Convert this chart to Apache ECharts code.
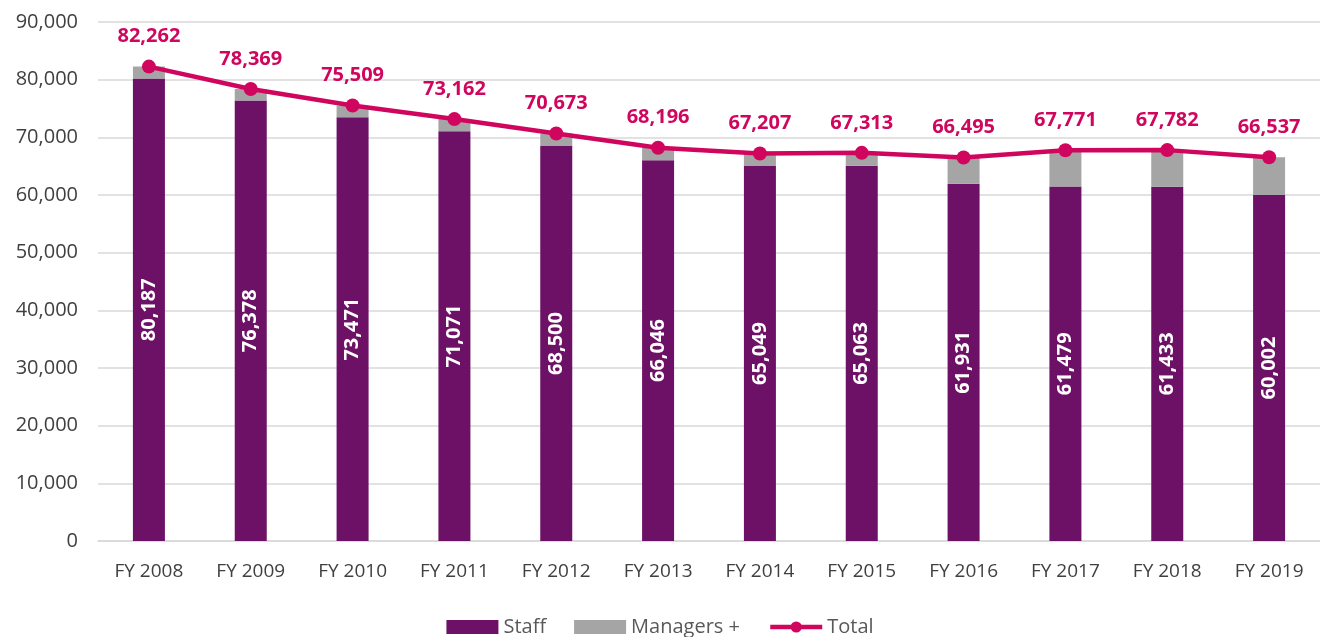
<!DOCTYPE html>
<html>
<head>
<meta charset="utf-8">
<script src="https://cdn.jsdelivr.net/npm/echarts@6/dist/echarts.min.js"></script>
<style>
  html, body { margin: 0; padding: 0; background: #fff; }
  #chart { width: 1320px; height: 637px; }
</style>
</head>
<body>
<div id="chart"></div>
<script>
var years = ['FY 2008', 'FY 2009', 'FY 2010', 'FY 2011', 'FY 2012', 'FY 2013', 'FY 2014', 'FY 2015', 'FY 2016', 'FY 2017', 'FY 2018', 'FY 2019']
var staff = [80187, 76378, 73471, 71071, 68500, 66046, 65049, 65063, 61931, 61479, 61433, 60002]
var managers = [2075, 1991, 2038, 2091, 2173, 2150, 2158, 2250, 4564, 6292, 6349, 6535]
var total = [82262, 78369, 75509, 73162, 70673, 68196, 67207, 67313, 66495, 67771, 67782, 66537]

var font = '"Open Sans", "Liberation Sans", sans-serif'
var fmt = function (v) { return Number(v).toLocaleString('en-US') }

var chart = echarts.init(document.getElementById('chart'))
var option = {
  animation: false,
  textStyle: { fontFamily: font },
  grid: { left: 98, right: 0, top: 22, bottom: 96 },
  legend: {
    top: 612,
    left: 'center',
    itemGap: 28,
    itemWidth: 52,
    itemHeight: 14,
    textStyle: { fontSize: 20, color: '#595959', fontFamily: font },
    data: [
      { name: 'Staff', icon: 'rect' },
      { name: 'Managers +', icon: 'rect' },
      { name: 'Total', lineStyle: { width: 4.5 }, itemStyle: { color: '#D0065E' } }
    ]
  },
  xAxis: {
    type: 'category',
    data: years,
    axisTick: { show: false },
    axisLine: { lineStyle: { color: '#d9d9d9', width: 1.5 } },
    axisLabel: { color: '#404040', fontSize: 19, margin: 21, interval: 0 }
  },
  yAxis: {
    type: 'value',
    min: 0,
    max: 90000,
    interval: 10000,
    axisLabel: { color: '#404040', fontSize: 20, margin: 20, formatter: fmt },
    splitLine: { lineStyle: { color: '#d9d9d9', width: 1.5 } }
  },
  series: [
    {
      name: 'Staff',
      type: 'bar',
      stack: 'a',
      barWidth: 32,
      data: staff,
      itemStyle: { color: '#6D1166' },
      label: {
        show: true,
        position: 'inside',
        rotate: 90,
        color: '#fff',
        fontSize: 20,
        fontWeight: 'bold',
        fontFamily: font,
        formatter: function (p) { return fmt(p.value) }
      }
    },
    {
      name: 'Managers +',
      type: 'bar',
      stack: 'a',
      barWidth: 32,
      data: managers,
      itemStyle: { color: '#A5A5A5' }
    },
    {
      name: 'Total',
      type: 'line',
      data: total,
      z: 5,
      symbol: 'circle',
      symbolSize: 14,
      lineStyle: { color: '#D0065E', width: 4.5 },
      itemStyle: { color: '#D0065E' },
      label: {
        show: true,
        position: 'top',
        distance: 13,
        color: '#D0065E',
        fontSize: 20,
        fontWeight: 'bold',
        fontFamily: font,
        formatter: function (p) { return fmt(p.value) }
      }
    }
  ]
}
chart.setOption(option)
</script>
</body>
</html>
